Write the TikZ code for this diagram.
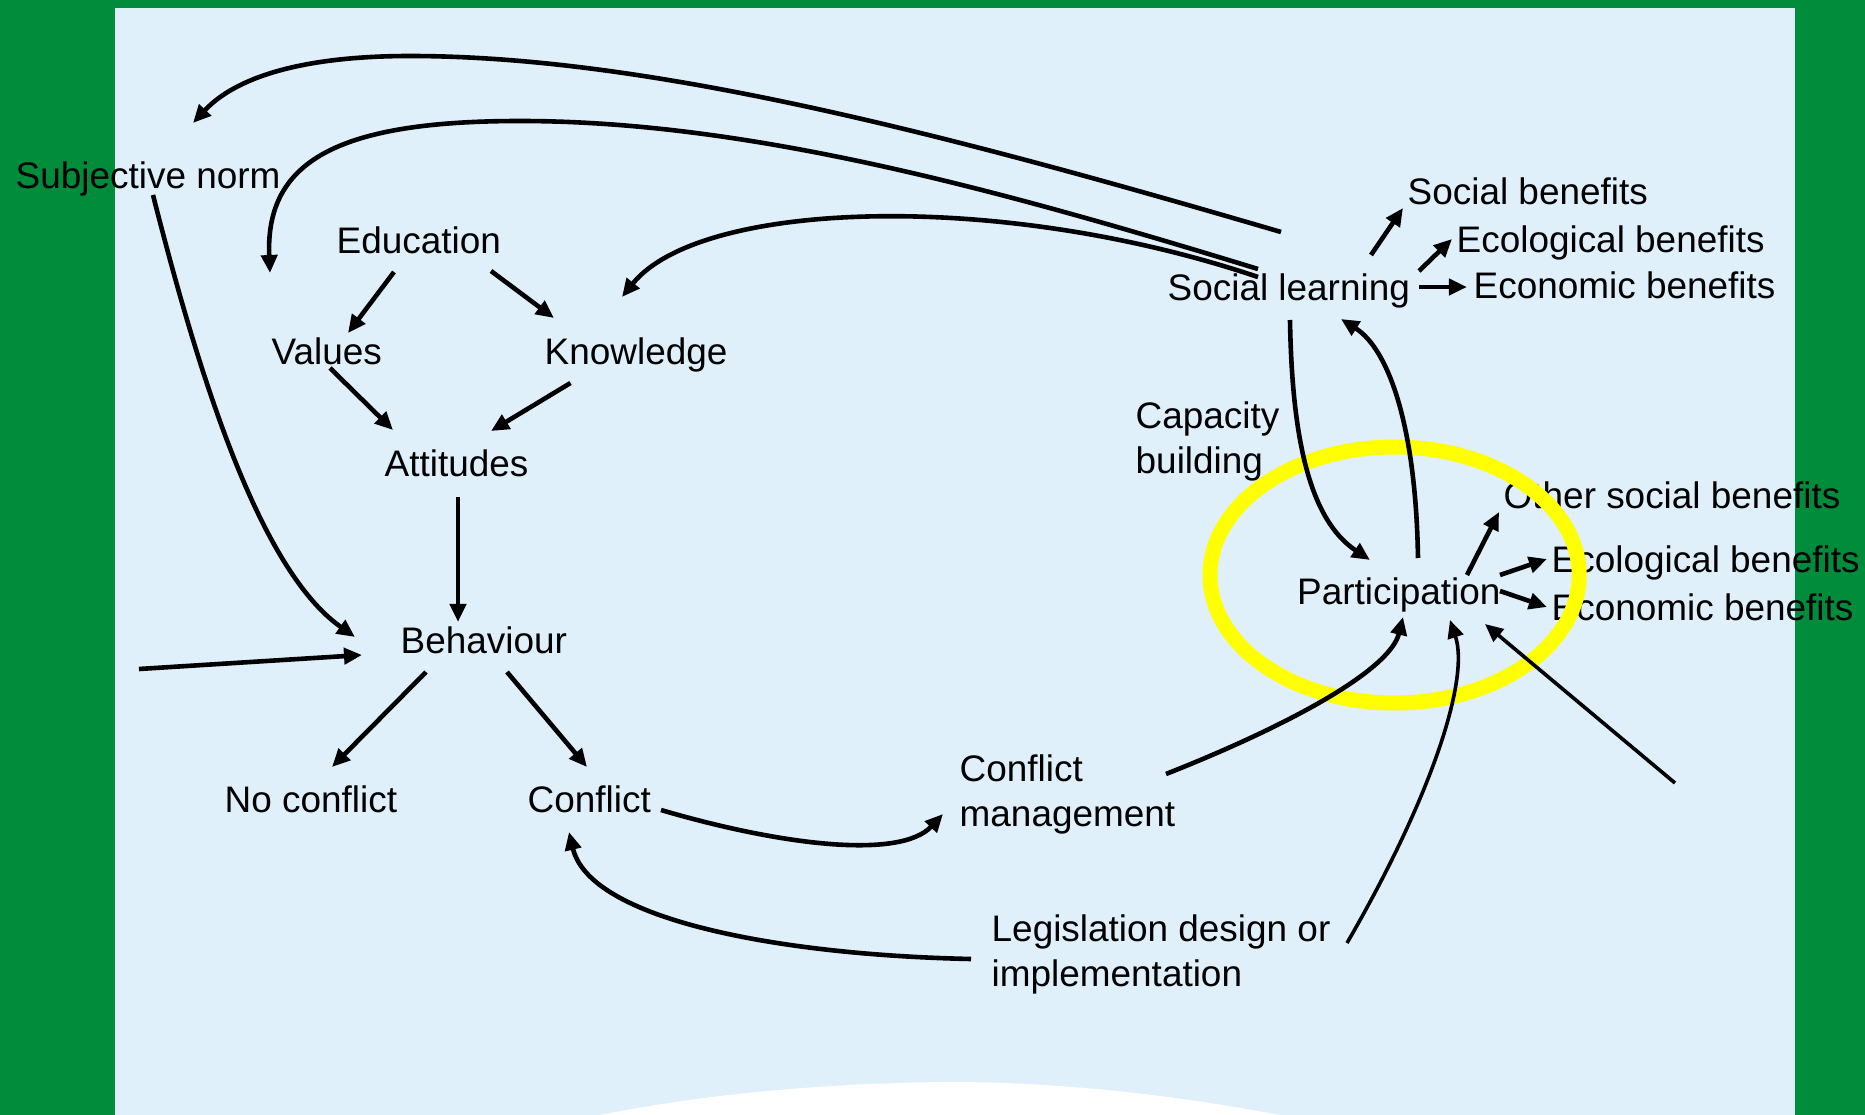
\documentclass[tikz,border=0pt]{standalone}
\usepackage{fontspec}
\setmainfont{Liberation Sans}
\usetikzlibrary{arrows.meta}
\definecolor{bggreen}{RGB}{0,140,58}
\definecolor{panel}{RGB}{223,240,251}
\definecolor{ring}{RGB}{255,255,0}
\begin{document}
\begin{tikzpicture}[x=0.01cm,y=-0.01cm,
  lbl/.style={anchor=base west, inner sep=0pt, font=\fontsize{10.5}{12.8}\selectfont},
  arr/.style={line width=0.046cm, -{Triangle[length=0.18cm,width=0.16cm]}},
  thinarr/.style={arr, line width=0.036cm}]
\useasboundingbox (0,0) rectangle (1865,1115);
% background
\fill[bggreen] (0,0) rectangle (1865,1115);
\fill[panel] (115,8) rectangle (1795,1115);
\fill[white] (600,1115) .. controls (700,1095) and (820,1083) .. (950,1082)
  .. controls (1080,1082) and (1200,1100) .. (1280,1115) -- cycle;
% labels
\node[lbl] (sub) at (15,189) {Subjective norm};
\node[lbl] (edu) at (336,253) {Education};
\node[lbl] (val) at (271,364) {Values};
\node[lbl] (kno) at (544,364) {Knowledge};
\node[lbl] (att) at (384,476) {Attitudes};
\node[lbl] (beh) at (400,653) {Behaviour};
\node[lbl] (noc) at (224,812) {No conflict};
\node[lbl] (con) at (527,812) {Conflict};
\node[lbl] (cm) at (959,781) {\begin{tabular}[t]{@{}l@{}}Conflict\\management\end{tabular}};
\node[lbl] (leg) at (991,941) {\begin{tabular}[t]{@{}l@{}}Legislation design or\\implementation\end{tabular}};
\node[lbl] (sl) at (1167,300.5) {Social learning};
\node[lbl] (sb) at (1407,204.5) {Social benefits};
\node[lbl] (eb1) at (1456,252) {Ecological benefits};
\node[lbl] (ecb1) at (1473,298.5) {Economic benefits};
\node[lbl] (cap) at (1135,428) {\begin{tabular}[t]{@{}l@{}}Capacity\\building\end{tabular}};
\node[lbl] (par) at (1296.5,604.5) {Participation};
\node[lbl] (osb) at (1503,508) {Other social benefits};
\node[lbl] (eb2) at (1551,572) {Ecological benefits};
\node[lbl] (ecb2) at (1551,620) {Economic benefits};
% highlight ring
\draw[ring, line width=0.15cm] (1394.6,575) ellipse [x radius=184.6, y radius=128];
% free ends
\coordinate (fl) at (139,669);
\coordinate (fr) at (1675,783);
% connectors: left cluster
\draw[arr] ([shift={(58,19)}]edu.base west) -- ([shift={(77,-31)}]val.base west);
\draw[arr] ([shift={(155,18)}]edu.base west) -- ([shift={(10,-46)}]kno.base west);
\draw[arr] ([shift={(59,4)}]val.base west) -- ([shift={(9,-46)}]att.base west);
\draw[arr] ([shift={(26.5,19)}]kno.base west) -- ([shift={(107,-45)}]att.base west);
\draw[arr] ([shift={(74,21)}]att.base west) -- ([shift={(58,-31)}]beh.base west);
\draw[arr] ([shift={(26,19)}]beh.base west) -- ([shift={(108,-45)}]noc.base west);
\draw[arr] ([shift={(107,19)}]beh.base west) -- ([shift={(60,-45)}]con.base west);
\draw[arr] ([shift={(138,6)}]sub.base west) .. controls (200,380) and (260,570) .. ([shift={(-45,-16)}]beh.base west);
\draw[arr] (fl) -- ([shift={(-38,2)}]beh.base west);
% long arcs from social learning
\draw[arr] ([shift={(114,-68.5)}]sl.base west) .. controls (950,135) and (650,56) .. (410,56)
  .. controls (300,56) and (235,78) .. ([shift={(178,-66)}]sub.base west);
\draw[arr] ([shift={(91,-31.5)}]sl.base west) .. controls (1000,190) and (750,121) .. (520,121)
  .. controls (340,121) and (265,160) .. ([shift={(-1,-91)}]val.base west);
\draw[arr] ([shift={(91,-23.5)}]sl.base west) .. controls (1000,190) and (700,200) .. ([shift={(78,-67)}]kno.base west);
% social learning <-> participation
\draw[arr] ([shift={(123,19.5)}]sl.base west) .. controls (1292,440) and (1310,520) .. ([shift={(73.5,-44.5)}]par.base west);
\draw[arr] ([shift={(121.5,-46.5)}]par.base west) .. controls (1416,430) and (1390,350) .. ([shift={(174,18.5)}]sl.base west);
% benefits
\draw[arr] ([shift={(204,-45.5)}]sl.base west) -- ([shift={(-4,3.5)}]sb.base west);
\draw[arr] ([shift={(252,-29.5)}]sl.base west) -- ([shift={(-4,-13)}]eb1.base west);
\draw[arr] ([shift={(252,-13.5)}]sl.base west) -- ([shift={(-6,-11.5)}]ecb1.base west);
\draw[arr] ([shift={(170.5,-29.5)}]par.base west) -- ([shift={(-4,4)}]osb.base west);
\draw[arr] ([shift={(203.5,-29.5)}]par.base west) -- ([shift={(-4,-13)}]eb2.base west);
\draw[arr] ([shift={(203.5,-13.5)}]par.base west) -- ([shift={(-4,-13)}]ecb2.base west);
% conflict loop
\draw[arr] ([shift={(134,-2)}]con.base west) .. controls (780,845) and (900,860) .. ([shift={(-16,33)}]cm.base west);
\draw[arr] ([shift={(-20,18)}]leg.base west) .. controls (780,955) and (590,920) .. ([shift={(42,20)}]con.base west);
\draw[arr] ([shift={(207,-7)}]cm.base west) .. controls (1290,725) and (1390,670) .. ([shift={(106.5,12.5)}]par.base west);
\draw[thinarr] ([shift={(356,2)}]leg.base west) .. controls (1430,800) and (1470,680) .. ([shift={(153.5,15.5)}]par.base west);
\draw[thinarr] (fr) -- ([shift={(188.5,19.5)}]par.base west);
\end{tikzpicture}
\end{document}
